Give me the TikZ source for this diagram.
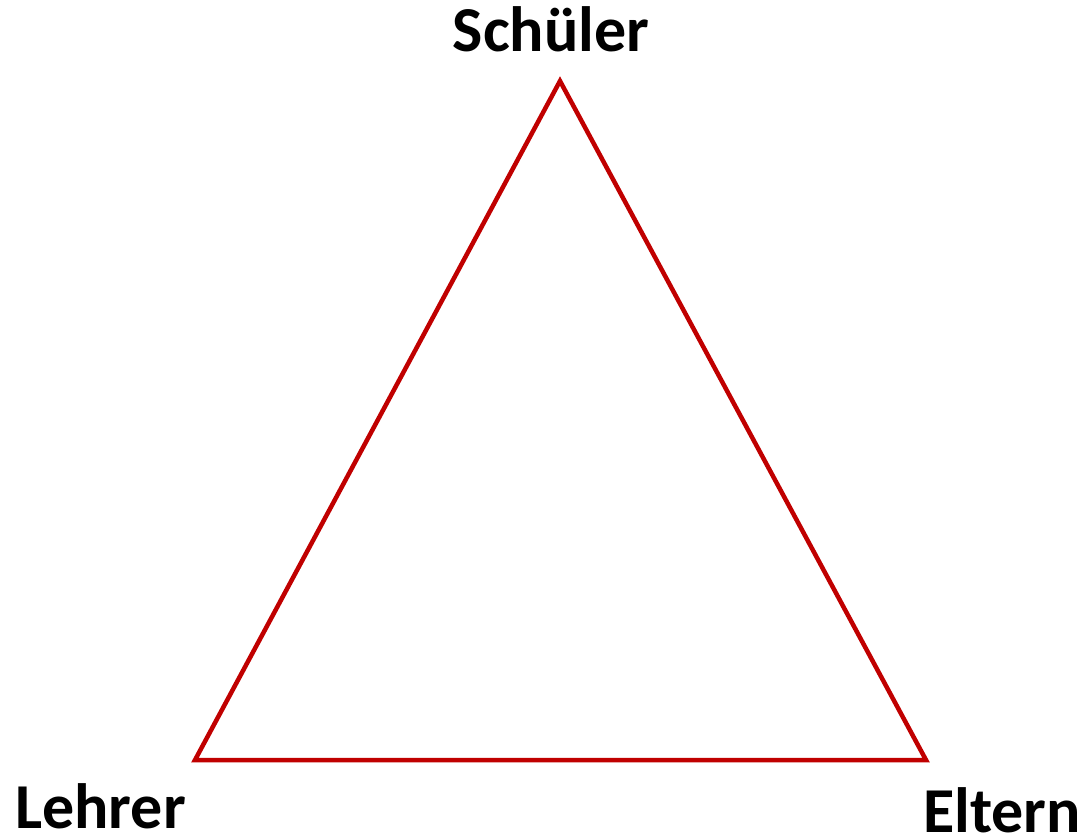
\documentclass[tikz,border=0pt]{standalone}
\usepackage{fontspec}
\setmainfont{Carlito}
\usepackage{tikz}
\usetikzlibrary{positioning}
\definecolor{myred}{RGB}{192,0,0}
\tikzset{
  corner/.style={inner sep=0pt, text depth=0pt, font=\fontsize{64}{66}\selectfont\bfseries},
  edge/.style={draw=myred, line width=4.5pt, line join=miter}
}

\begin{document}
\begin{tikzpicture}[x=1pt, y=-1pt]
  \useasboundingbox (0,0) rectangle (1082,835);

  % Triangle corners
  \coordinate (top) at (560, 81);
  \coordinate (left) at (195, 760);
  \coordinate (right) at (926, 760);

  % Triangle
  \draw[edge] (top) -- (left) -- (right) -- cycle;

  % Labels
  \node[corner, anchor=base] (schueler) at (551, 51) {Schüler};
  \node[corner, anchor=base west] (lehrer) at (15, 828) {Lehrer};
  \node[corner, anchor=base west] (eltern) at (923, 832) {Eltern};
\end{tikzpicture}
\end{document}
